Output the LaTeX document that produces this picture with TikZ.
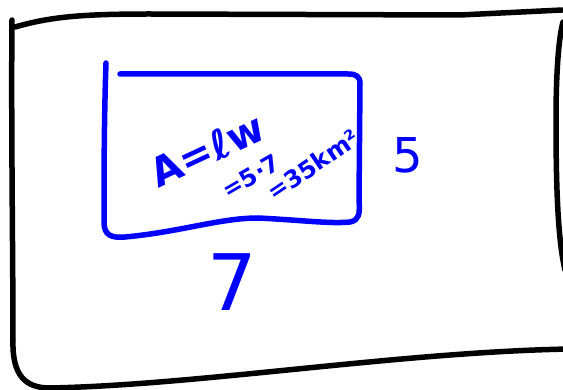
\documentclass[tikz,border=0pt]{standalone}
\usepackage{fontspec}
\setmainfont{DejaVu Sans}
\begin{document}
\begin{tikzpicture}[x=1pt,y=-1pt,
  outerline/.style={line width=5.5pt,black,line cap=round,line join=round},
  innerline/.style={line width=5.5pt,blue,line cap=round,line join=round},
  hand/.style={text=blue,inner sep=0pt,font=#1},
  hand/.default={\bfseries\fontsize{40}{40}\selectfont}]
\useasboundingbox (0,0) rectangle (563,390);
% outer frame
\draw[outerline] (12,20) .. controls (11,120) and (13,260) .. (13,340)
  .. controls (12,375) and (25,388) .. (50,388)
  .. controls (200,385) and (400,352) .. (570,349);
\draw[outerline] (15,27) .. controls (50,17) and (80,14) .. (150,14)
  -- (460,15) -- (562,10);
\draw[outerline] (563,22) .. controls (558,40) and (556,80) .. (556,120)
  .. controls (556,190) and (558,240) .. (565,270);
% inner rectangle
\draw[innerline] (106,63) .. controls (104,120) and (104,180) .. (104,222)
  .. controls (104,236) and (112,238) .. (125,237)
  .. controls (180,232) and (220,218) .. (258,218)
  .. controls (300,220) and (330,224) .. (350,222)
  .. controls (359,220) and (360,215) .. (359,200)
  -- (360,84) .. controls (360,76) and (356,74) .. (348,74) -- (120,74);
% formula
\node[hand, rotate=25] (f1) at (207,150) {A=ℓw};
\node[hand={\bfseries\fontsize{24}{24}\selectfont}, rotate=30] (f2) at (251,176) {=5·7};
\node[hand={\bfseries\fontsize{24}{24}\selectfont}, rotate=34] (f3) at (313,165) {=35km²};
% dimensions
\node[hand={\fontsize{48}{48}\selectfont}] (w) at (408,155) {5};
\node[hand={\fontsize{78}{78}\selectfont}] (l) at (232,282) {7};
\end{tikzpicture}
\end{document}
